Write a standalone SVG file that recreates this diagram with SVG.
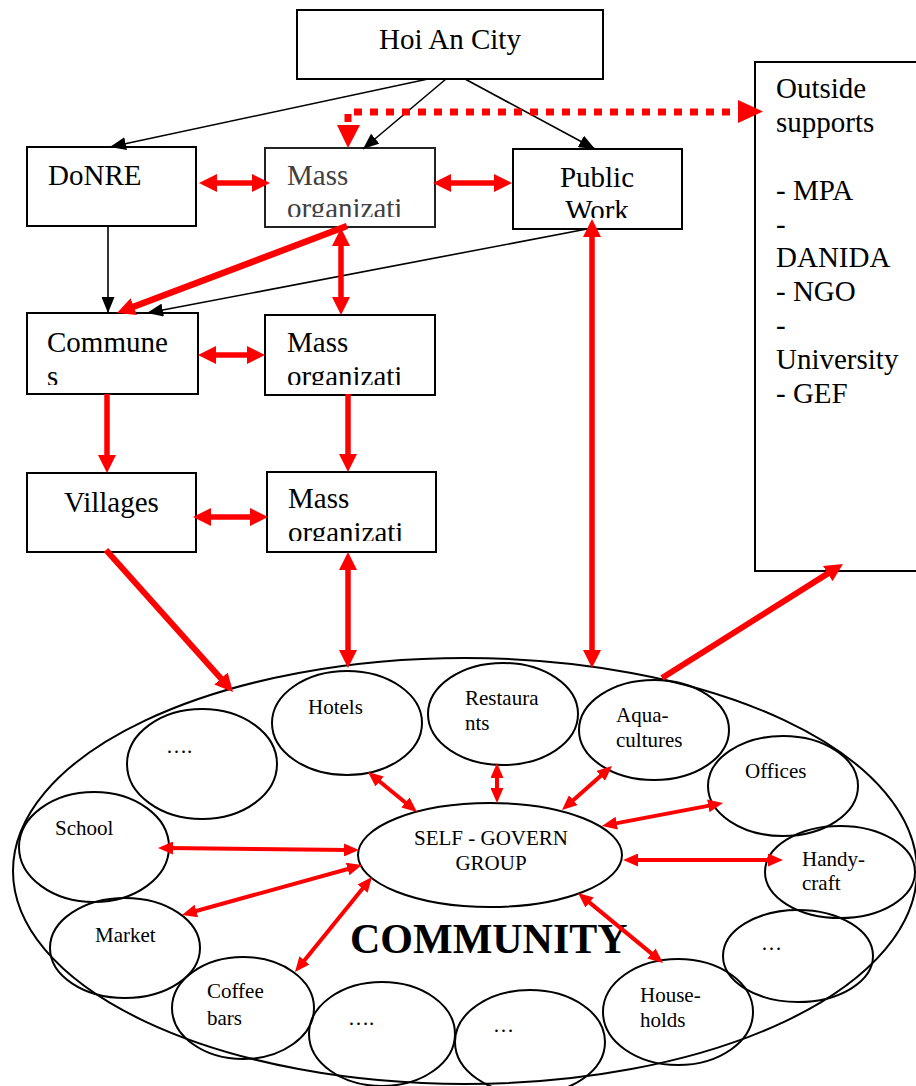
<svg xmlns="http://www.w3.org/2000/svg" width="916" height="1086" viewBox="0 0 916 1086" font-family="'Liberation Serif','Times New Roman',serif">
<style>
text{font-family:"Liberation Serif","Times New Roman",serif;fill:#000}
.bt{font-size:29px}
.et{font-size:21px}
.box{fill:#fff;stroke:#000;stroke-width:2}
.ell{fill:none;stroke:#000;stroke-width:2}
.bl{stroke:#000;stroke-width:1.6;fill:none;marker-end:url(#bh)}
.rt{stroke:#f00;stroke-width:5.5;fill:none}
.rs{stroke:#f00;stroke-width:4;fill:none;marker-start:url(#sh);marker-end:url(#sh)}
.d2{marker-start:url(#rh);marker-end:url(#rh)}
.d1{marker-end:url(#rh)}
</style>
<defs>
<marker id="rh" viewBox="0 0 18 18" refX="6" refY="9" markerWidth="18" markerHeight="18" markerUnits="userSpaceOnUse" orient="auto-start-reverse"><path d="M0,0 L18,9 L0,18 Z" fill="#f00"/></marker>
<marker id="sh" viewBox="0 0 15 13" refX="5" refY="6.5" markerWidth="15" markerHeight="13" markerUnits="userSpaceOnUse" orient="auto-start-reverse"><path d="M0,0 L15,6.5 L0,13 Z" fill="#f00"/></marker>
<marker id="bh" viewBox="0 0 16 13" refX="16" refY="6.5" markerWidth="16" markerHeight="13" markerUnits="userSpaceOnUse" orient="auto"><path d="M0,0 L16,6.5 L0,13 Z" fill="#000"/></marker>
<clipPath id="c1"><rect x="265" y="148" width="170" height="69"/></clipPath>
<clipPath id="c2"><rect x="513" y="149" width="169" height="69"/></clipPath>
<clipPath id="c3"><rect x="27" y="313" width="171" height="72"/></clipPath>
<clipPath id="c4"><rect x="265" y="315" width="170" height="70"/></clipPath>
<clipPath id="c5"><rect x="267" y="472" width="169" height="69"/></clipPath>
</defs>

<g id="hoian"><rect class="box" x="297" y="10" width="306" height="69"/><text class="bt" x="450" y="49" text-anchor="middle">Hoi An City</text></g>
<g id="donre"><rect class="box" x="27" y="147" width="169" height="79"/><text class="bt" x="48" y="185">DoNRE</text></g>
<g id="mass1"><rect class="box" x="265" y="148" width="170" height="79" style="stroke:#222"/><g clip-path="url(#c1)"><text class="bt" x="287" y="185" style="fill:#404040">Mass</text><text class="bt" x="287" y="218" style="fill:#404040">organizati</text></g></g>
<g id="publicwork"><rect class="box" x="513" y="149" width="169" height="80"/><g clip-path="url(#c2)"><text class="bt" x="597" y="187" text-anchor="middle">Public</text><text class="bt" x="597" y="220" text-anchor="middle">Work</text></g></g>
<g id="outside"><rect class="box" x="755" y="62" width="200" height="509"/>
<text class="bt" x="776" y="98">Outside</text><text class="bt" x="776" y="132">supports</text>
<text class="bt" x="776" y="200">- MPA</text><text class="bt" x="776" y="234">-</text><text class="bt" x="776" y="267">DANIDA</text><text class="bt" x="776" y="301">- NGO</text><text class="bt" x="776" y="335">-</text><text class="bt" x="776" y="369">University</text><text class="bt" x="776" y="403">- GEF</text></g>
<g id="communes"><rect class="box" x="27" y="313" width="171" height="81"/><g clip-path="url(#c3)"><text class="bt" x="47" y="352">Commune</text><text class="bt" x="47" y="386">s</text></g></g>
<g id="mass2"><rect class="box" x="265" y="315" width="170" height="80"/><g clip-path="url(#c4)"><text class="bt" x="287" y="352">Mass</text><text class="bt" x="287" y="386">organizati</text></g></g>
<g id="villages"><rect class="box" x="27" y="473" width="169" height="79"/><text class="bt" x="64" y="512">Villages</text></g>
<g id="mass3"><rect class="box" x="267" y="472" width="169" height="80"/><g clip-path="url(#c5)"><text class="bt" x="288" y="508">Mass</text><text class="bt" x="288" y="542">organizati</text></g></g>

<g id="community"><ellipse class="ell" cx="465" cy="871" rx="452" ry="213"/><text x="350" y="953" style="font-size:42px;font-weight:bold">COMMUNITY</text></g>
<g id="dots1"><ellipse class="ell" cx="202" cy="764" rx="75" ry="55"/><text class="et" x="166" y="753">….</text></g>
<g id="hotels"><ellipse class="ell" cx="347" cy="723" rx="75" ry="52"/><text class="et" x="308" y="714">Hotels</text></g>
<g id="restaurants"><ellipse class="ell" cx="503" cy="714" rx="75" ry="51"/><text class="et" x="465" y="705">Restaura</text><text class="et" x="465" y="730">nts</text></g>
<g id="aquacultures"><ellipse class="ell" cx="654" cy="730" rx="75" ry="50"/><text class="et" x="616" y="722">Aqua-</text><text class="et" x="616" y="747">cultures</text></g>
<g id="offices"><ellipse class="ell" cx="783" cy="786" rx="75" ry="50"/><text class="et" x="745" y="778">Offices</text></g>
<g id="handycraft"><ellipse class="ell" cx="840" cy="872" rx="75" ry="46"/><text class="et" x="802" y="866">Handy-</text><text class="et" x="802" y="890">craft</text></g>
<g id="dots2"><ellipse class="ell" cx="798" cy="956" rx="75" ry="46"/><text class="et" x="761" y="950">…</text></g>
<g id="households"><ellipse class="ell" cx="678" cy="1012" rx="75" ry="53"/><text class="et" x="640" y="1002">House-</text><text class="et" x="640" y="1027">holds</text></g>
<g id="dots3"><ellipse class="ell" cx="530" cy="1042" rx="75" ry="52"/><text class="et" x="493" y="1032">…</text></g>
<g id="dots4"><ellipse class="ell" cx="382" cy="1034" rx="73" ry="52"/><text class="et" x="348" y="1025">….</text></g>
<g id="coffee"><ellipse class="ell" cx="243" cy="1008" rx="71" ry="51"/><text class="et" x="207" y="998">Coffee</text><text class="et" x="207" y="1025">bars</text></g>
<g id="market"><ellipse class="ell" cx="125" cy="948" rx="75" ry="50"/><text class="et" x="95" y="942">Market</text></g>
<g id="school"><ellipse class="ell" cx="94" cy="847" rx="75" ry="55"/><text class="et" x="55" y="835">School</text></g>
<g id="selfgovern"><ellipse class="ell" cx="490" cy="855" rx="132" ry="52"/><text class="et" x="491" y="845" text-anchor="middle">SELF - GOVERN</text><text class="et" x="491" y="870" text-anchor="middle">GROUP</text></g>

<g id="connectors">
<path class="bl" d="M428,79 L110,147"/>
<path class="bl" d="M446,79 L363,149"/>
<path class="bl" d="M465,79 L595,149"/>
<path class="bl" d="M108,227 L108,313"/>
<path class="bl" d="M587,229 L147,313"/>

<path d="M348,122 V112 H738" stroke="#f00" stroke-width="7" stroke-dasharray="8 8" fill="none"/>
<polygon points="337,125 360,125 348,148" fill="#f00"/>
<polygon points="738,100 738,123 763,111.5" fill="#f00"/>

<path class="rt d2" d="M211,183 H258"/>
<path class="rt d2" d="M445,183 H500"/>
<path class="rt d1" d="M347,226 L128.2,308.8" style="stroke-width:6.5"/>
<path class="rt d2" d="M341,240 V303"/>
<path class="rt d1" d="M107,394 V461"/>
<path class="rt d1" d="M348,394 V460"/>
<path class="rt d2" d="M210,355 H253"/>
<path class="rt d2" d="M205,517 H256"/>
<path class="rt d1" d="M106,550 L225,683" style="stroke-width:6"/>
<path class="rt d2" d="M348,564 V656"/>
<path class="rt d2" d="M592,231 V656"/>
<path class="rt d1" d="M662,678 L832.8,570.4" style="stroke-width:6"/>

<path class="rs" d="M375.7,778.3 L409.3,805.7"/>
<path class="rs" d="M497,773 V793"/>
<path class="rs" d="M604.5,772.6 L569.5,803.4"/>
<path class="rs" d="M611.8,824.1 L713.2,804.9"/>
<path class="rs" d="M633,860 H773"/>
<path class="rs" d="M585.7,899.4 L655.3,956.6"/>
<path class="rs" d="M168,848 L349,850"/>
<path class="rs" d="M191.6,912.3 L352.4,867.7"/>
<path class="rs" d="M301.3,964.2 L365.7,884.8"/>
</g>
</svg>
